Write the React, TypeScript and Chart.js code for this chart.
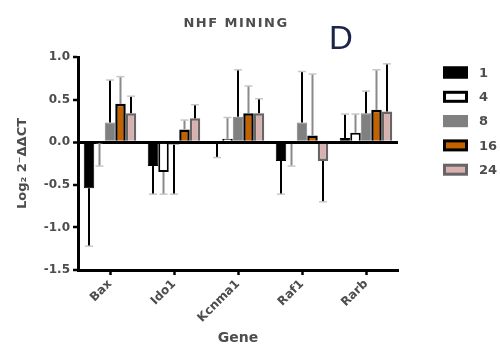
import React, { useEffect, useRef } from "react";
import { Chart, registerables } from "chart.js";

Chart.register(...registerables);

const genes = ["Bax", "Ido1", "Kcnma1", "Raf1", "Rarb"];
const seriesNames = ["1", "4", "8", "16", "24"];

const s1 = [-0.54, -0.28, -0.01, -0.22, 0.05];
const s4 = [-0.01, -0.35, 0.04, -0.02, 0.11];
const s8 = [0.23, -0.03, 0.3, 0.23, 0.34];
const s16 = [0.45, 0.15, 0.34, 0.08, 0.38];
const s24 = [0.34, 0.28, 0.34, -0.22, 0.36];

const e1 = [0.68, 0.33, 0.17, 0.39, 0.28];
const e4 = [0.27, 0.26, 0.25, 0.26, 0.22];
const e8 = [0.5, 0.58, 0.55, 0.6, 0.26];
const e16 = [0.32, 0.11, 0.32, 0.72, 0.47];
const e24 = [0.2, 0.16, 0.17, 0.48, 0.56];

const yTicks = [1.0, 0.5, 0.0, -0.5, -1.0, -1.5];

const values = [s1, s4, s8, s16, s24];
const errors = [e1, e4, e8, e16, e24];
const fills = ["#000000", "#ffffff", "#808080", "#c46200", "#d9b0ae"];
const borders = ["#000000", "#000000", "#808080", "#000000", "#666666"];
const borderWidths = [1, 2, 1, 2.5, 2.5];
const errColors = ["#000000", "#8a8a8a", "#000000", "#8a8a8a", "#000000"];

const FONT = "'DejaVu Sans', Arial, sans-serif";
const TEXT = "#4d4d4d";

const errorBarPlugin = {
  id: "errorBars",
  afterDatasetsDraw(chart: any) {
    const ctx = chart.ctx;
    const y = chart.scales.y;
    ctx.save();
    values.forEach((vals, i) => {
      const meta = chart.getDatasetMeta(i);
      meta.data.forEach((el: any, j: number) => {
        const v = vals[j];
        const e = errors[i][j];
        const end = v >= 0 ? v + e : v - e;
        const y0 = y.getPixelForValue(v);
        const y1 = y.getPixelForValue(end);
        ctx.strokeStyle = errColors[i];
        ctx.lineWidth = 2;
        ctx.beginPath();
        ctx.moveTo(el.x, y0);
        ctx.lineTo(el.x, y1);
        ctx.stroke();
        ctx.strokeStyle = "#c8c8c8";
        ctx.lineWidth = 1.5;
        ctx.beginPath();
        ctx.moveTo(el.x - 4, y1);
        ctx.lineTo(el.x + 4, y1);
        ctx.stroke();
      });
    });
    ctx.restore();
  },
};

const decorPlugin = {
  id: "decor",
  afterDraw(chart: any) {
    const ctx = chart.ctx;
    const area = chart.chartArea;
    ctx.save();
    // title
    ctx.fillStyle = TEXT;
    ctx.font = `bold 13px ${FONT}`;
    (ctx as any).letterSpacing = "1.5px";
    ctx.textAlign = "center";
    ctx.textBaseline = "middle";
    ctx.fillText("NHF MINING", (area.left + area.right) / 2 - 2, 24);
    (ctx as any).letterSpacing = "0px";
    // panel letter
    ctx.fillStyle = "#1c2448";
    ctx.font = `33px 'Liberation Sans', Arial, sans-serif`;
    ctx.textAlign = "left";
    ctx.textBaseline = "alphabetic";
    ctx.fillText("D", 329, 49);
    // legend
    const lx = 443;
    const top = 72.5;
    const step = 24.3;
    seriesNames.forEach((name, i) => {
      const cy = top + i * step;
      const w = 25;
      const h = 12;
      ctx.fillStyle = borders[i];
      ctx.fillRect(lx, cy - h / 2, w, h);
      if (i === 1 || i === 3 || i === 4) {
        ctx.fillStyle = fills[i];
        ctx.fillRect(lx + 3, cy - h / 2 + 3, w - 6, h - 6);
      } else {
        ctx.fillStyle = fills[i];
        ctx.fillRect(lx, cy - h / 2, w, h);
      }
      ctx.fillStyle = TEXT;
      ctx.font = `bold 13px ${FONT}`;
      ctx.textAlign = "left";
      ctx.textBaseline = "middle";
      ctx.fillText(name, 479, cy + 1);
    });
    ctx.restore();
  },
};

export default function App() {
  const ref = useRef<HTMLCanvasElement>(null);
  useEffect(() => {
    document.body.style.margin = "0";
    const canvas = ref.current!;
    const chart = new Chart(canvas, {
      type: "bar",
      data: {
        labels: genes,
        datasets: values.map((vals, i) => ({
          label: seriesNames[i],
          data: vals,
          backgroundColor: fills[i],
          borderColor: borders[i],
          borderWidth: borderWidths[i],
          categoryPercentage: 0.82,
          barPercentage: 1.0,
        })),
      },
      options: {
        animation: false,
        responsive: false,
        layout: { padding: { top: 57, right: 102, left: 0, bottom: 0 } },
        plugins: {
          legend: { display: false },
          title: { display: false },
          tooltip: { enabled: false },
        },
        scales: {
          x: {
            afterFit: (s: any) => {
              s.height = 79;
            },
            border: { display: true, color: "#000", width: 3 },
            grid: {
              display: true,
              offset: false,
              drawOnChartArea: false,
              drawTicks: true,
              tickLength: 5,
              tickWidth: 2.5,
              tickColor: "#000",
            },
            ticks: {
              autoSkip: false,
              minRotation: 45,
              maxRotation: 45,
              padding: 2,
              color: TEXT,
              font: { family: FONT, size: 12, weight: "bold" },
            },
            title: {
              display: true,
              text: "Gene",
              color: TEXT,
              font: { family: FONT, size: 14, weight: "bold" },
              padding: { top: 0, bottom: 2 },
            },
          },
          y: {
            min: -1.5,
            max: 1.0,
            afterFit: (s: any) => {
              s.width = 78;
            },
            afterBuildTicks: (s: any) => {
              s.ticks = yTicks.map((v) => ({ value: v }));
            },
            border: { display: true, color: "#000", width: 3 },
            grid: {
              display: true,
              drawOnChartArea: true,
              drawTicks: true,
              tickLength: 5,
              tickWidth: 2.5,
              tickColor: "#000",
              color: (c: any) => (c.tick && c.tick.value === 0 ? "#000" : "rgba(0,0,0,0)"),
              lineWidth: (c: any) => (c.tick && c.tick.value === 0 ? 3 : 0),
            },
            ticks: {
              padding: 3,
              color: TEXT,
              font: { family: FONT, size: 12, weight: "bold" },
              callback: (v: any) => Number(v).toFixed(1),
            },
            title: {
              display: true,
              text: "Log\u2082 2\u207B\u0394\u0394CT",
              color: TEXT,
              font: { family: FONT, size: 13, weight: "bold" },
              padding: { top: 15, bottom: 0 },
            },
          },
        },
      },
      plugins: [errorBarPlugin, decorPlugin],
    });
    return () => chart.destroy();
  }, []);
  return <canvas ref={ref} width={500} height={349} style={{ display: "block" }} />;
}
